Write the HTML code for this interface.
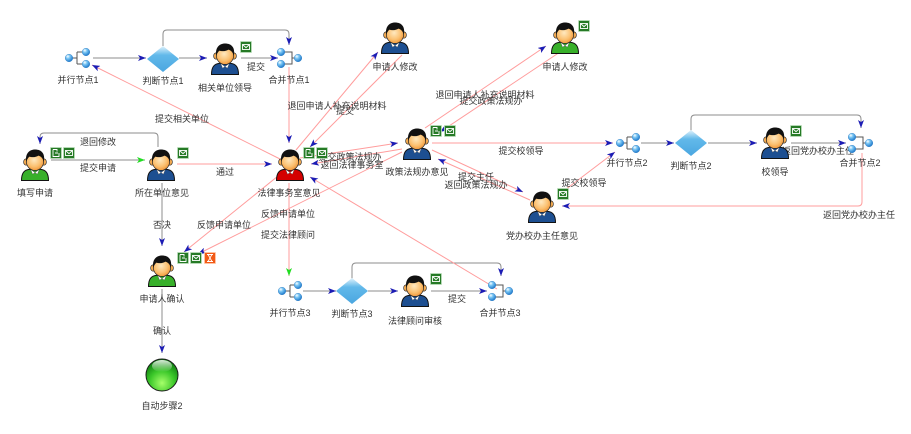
<!DOCTYPE html>
<html><head><meta charset="utf-8">
<style>
html,body{margin:0;padding:0;background:#fff;}
svg{display:block;}
.t{font-family:"Liberation Sans","Noto Sans CJK SC",sans-serif;font-size:9px;fill:#333;text-anchor:middle;}
.g{fill:none;stroke:#8c8c8c;stroke-width:1;}
.p{fill:none;stroke:#ff9c9c;stroke-width:1;}
</style></head>
<body>
<svg width="911" height="434" viewBox="0 0 911 434" xmlns="http://www.w3.org/2000/svg">
<defs>
<marker id="ab" viewBox="0 0 8 6" refX="8" refY="3" markerWidth="8" markerHeight="6" orient="auto" markerUnits="userSpaceOnUse"><path d="M0,0 L8,3 L0,6 L2,3 Z" fill="#1c1cb4"/></marker>
<marker id="ag" viewBox="0 0 8 6" refX="8" refY="3" markerWidth="8" markerHeight="6" orient="auto" markerUnits="userSpaceOnUse"><path d="M0,0 L8,3 L0,6 L2,3 Z" fill="#22dd22"/></marker>
<radialGradient id="face" cx="0.45" cy="0.4" r="0.65"><stop offset="0" stop-color="#ffe9c0"/><stop offset="0.6" stop-color="#fbc070"/><stop offset="1" stop-color="#ef9030"/></radialGradient>
<radialGradient id="ball" cx="0.35" cy="0.3" r="0.75"><stop offset="0" stop-color="#ffffff"/><stop offset="0.35" stop-color="#7cc8f5"/><stop offset="1" stop-color="#1672c8"/></radialGradient>
<linearGradient id="dia" x1="0" y1="0" x2="0" y2="1"><stop offset="0" stop-color="#e2f3fc"/><stop offset="0.35" stop-color="#62b9ea"/><stop offset="1" stop-color="#4aa6e0"/></linearGradient>
<radialGradient id="gc" cx="0.5" cy="0.75" r="0.7"><stop offset="0" stop-color="#a6ff6a"/><stop offset="0.55" stop-color="#3cc82a"/><stop offset="1" stop-color="#0e7e10"/></radialGradient>
<linearGradient id="gh" x1="0" y1="0" x2="0" y2="1"><stop offset="0" stop-color="#fff" stop-opacity="0.85"/><stop offset="1" stop-color="#fff" stop-opacity="0"/></linearGradient>
<symbol id="pp" viewBox="0 0 30 32">
<path d="M1.5,31.5 C1.5,24 4,20.8 10,20.2 L20,20.2 C26,20.8 28.5,24 28.5,31.5 Z" fill="currentColor" stroke="#111" stroke-width="1"/>
<path d="M10.5,20.2 L15,23.6 L12.6,25.2 Z M19.5,20.2 L15,23.6 L17.4,25.2 Z" fill="#fff" stroke="#444" stroke-width="0.4"/>
<ellipse cx="6.2" cy="13" rx="2.6" ry="3.2" fill="#f0a850" stroke="#222" stroke-width="0.6"/>
<ellipse cx="23.8" cy="13" rx="2.6" ry="3.2" fill="#f0a850" stroke="#222" stroke-width="0.6"/>
<ellipse cx="15" cy="12.6" rx="8.6" ry="8.8" fill="url(#face)" stroke="#222" stroke-width="0.7"/>
<path d="M6.2,13 C5,5 9,0.5 15,0.5 C21.5,0.5 25.5,4.5 23.8,13 C23,9.5 21.2,7.4 18.5,6.6 C16.2,8.2 12,8.6 9.4,7.6 C7.8,9 6.8,11 6.2,13 Z" fill="#111"/>
</symbol>
<symbol id="mail" viewBox="0 0 12 12"><rect x="0.5" y="0.5" width="11" height="11" fill="#267a26" stroke="#bfe0bf" stroke-width="0.8"/><rect x="2.5" y="3.5" width="7" height="5" fill="none" stroke="#fff" stroke-width="0.9"/><path d="M2.5,3.5 L6,6.6 L9.5,3.5" fill="none" stroke="#fff" stroke-width="0.9"/></symbol>
<symbol id="fold" viewBox="0 0 12 12"><rect x="0.5" y="0.5" width="11" height="11" fill="#267a26" stroke="#bfe0bf" stroke-width="0.8"/><path d="M3,2.5 H7 V4.5 M3,2.5 V9.5 H9 V6 M5,6 H8" fill="none" stroke="#fff" stroke-width="0.9"/></symbol>
<symbol id="hour" viewBox="0 0 12 12"><rect x="0.5" y="0.5" width="11" height="11" fill="#f25a16" stroke="#ffc8a8" stroke-width="0.8"/><path d="M3,2.5 H9 M3,9.5 H9 M4,2.5 L8,2.5 L6,6 Z M6,6 L8,9.5 L4,9.5 Z" fill="none" stroke="#fff" stroke-width="0.9"/></symbol>
</defs>

<!-- gray connectors -->
<path class="g" d="M93,58 L146,58" marker-end="url(#ab)"/>
<path class="g" d="M179,58 L207,58" marker-end="url(#ab)"/>
<path class="g" d="M241,58 L278,58" marker-end="url(#ab)"/>
<path class="g" d="M163,46 L163,34 Q163,30 167,30 L285,30 Q289,30 289,34 L289,45" marker-end="url(#ab)"/>
<path class="g" d="M51,160 L145,160" marker-end="url(#ag)"/>
<path class="g" d="M158,147 L158,137 Q158,133 154,133 L44,133 Q40,133 40,137 L40,144" marker-end="url(#ab)"/>
<path class="g" d="M162,183 L162,246" marker-end="url(#ab)"/>
<path class="g" d="M162,289 L162,353" marker-end="url(#ab)"/>
<path class="g" d="M303,291 L336,291" marker-end="url(#ab)"/>
<path class="g" d="M368,291 L398,291" marker-end="url(#ab)"/>
<path class="g" d="M431,291 L487,291" marker-end="url(#ab)"/>
<path class="g" d="M352,280 L352,267 Q352,263 356,263 L497,263 Q501,263 501,267 L501,276" marker-end="url(#ab)"/>
<path class="g" d="M641,143 L674,143" marker-end="url(#ab)"/>
<path class="g" d="M708,143 L757,143" marker-end="url(#ab)"/>
<path class="g" d="M791,143 L846,143" marker-end="url(#ab)"/>
<path class="g" d="M691,132 L691,119 Q691,115 695,115 L857,115 Q861,115 861,119 L861,128" marker-end="url(#ab)"/>

<!-- pink connectors -->
<path class="p" d="M177,164 L272,164" marker-end="url(#ab)"/>
<path class="p" d="M289,67 L289,143" marker-end="url(#ab)"/>
<path class="p" d="M282,160 L92,65" marker-end="url(#ab)"/>
<path class="p" d="M296,150 L378,52" marker-end="url(#ab)"/>
<path class="p" d="M402,55 L310,147" marker-end="url(#ab)"/>
<path class="p" d="M300,158 L398,143" marker-end="url(#ab)"/>
<path class="p" d="M402,149 L311,164" marker-end="url(#ab)"/>
<path class="p" d="M425,128 L546,46" marker-end="url(#ab)"/>
<path class="p" d="M560,52 L440,132" marker-end="url(#ab)"/>
<path class="p" d="M432,150 L523,192" marker-end="url(#ab)"/>
<path class="p" d="M530,200 L438,159" marker-end="url(#ab)"/>
<path class="p" d="M432,143 L613,143" marker-end="url(#ab)"/>
<path class="p" d="M557,196 L615,152" marker-end="url(#ab)"/>
<path class="p" d="M862,153 L862,202 Q862,206 858,206 L562,206" marker-end="url(#ab)"/>
<path class="p" d="M283,172 L184,252" marker-end="url(#ab)"/>
<path class="p" d="M402,152 L198,254" marker-end="url(#ab)"/>
<path class="p" d="M289,183 L289,276" marker-end="url(#ag)"/>
<path class="p" d="M497,289 L310,177" marker-end="url(#ab)"/>

<!-- connector labels -->
<text class="t" x="256" y="70">提交</text>
<text class="t" x="98" y="145">退回修改</text>
<text class="t" x="98" y="171">提交申请</text>
<text class="t" x="225" y="175">通过</text>
<text class="t" x="182" y="122">提交相关单位</text>
<text class="t" x="337" y="109">退回申请人补充说明材料</text>
<text class="t" x="345" y="114">提交</text>
<text class="t" x="485" y="98">退回申请人补充说明材料</text>
<text class="t" x="491" y="104">提交政策法规办</text>
<text class="t" x="350" y="160">提交政策法规办</text>
<text class="t" x="352" y="168">返回法律事务室</text>
<text class="t" x="521" y="154">提交校领导</text>
<text class="t" x="476" y="180">提交主任</text>
<text class="t" x="476" y="188">返回政策法规办</text>
<text class="t" x="584" y="186">提交校领导</text>
<text class="t" x="818" y="154">返回党办校办主任</text>
<text class="t" x="859" y="218">返回党办校办主任</text>
<text class="t" x="162" y="228">否决</text>
<text class="t" x="162" y="334">确认</text>
<text class="t" x="224" y="228">反馈申请单位</text>
<text class="t" x="288" y="217">反馈申请单位</text>
<text class="t" x="288" y="238">提交法律顾问</text>
<text class="t" x="457" y="302">提交</text>

<!-- parallel / merge nodes -->
<g stroke="#555" stroke-width="1" fill="none">
<path d="M72,58 H77 M77,52 V64 M77,52 H82 M77,64 H82"/>
<path d="M284,52 H292 V64 H284 M292,58 H295"/>
<path d="M623,143 H627 M627,137 V149 M627,137 H632 M627,149 H632"/>
<path d="M855,137 H863 V149 H855 M863,143 H866"/>
<path d="M285,291 H290 M290,285 V297 M290,285 H294 M290,297 H294"/>
<path d="M495,285 H503 V297 H495 M503,291 H506"/>
</g>
<g fill="url(#ball)" stroke="#2a78c0" stroke-width="0.4">
<circle cx="69" cy="58" r="3.8"/><circle cx="86" cy="52" r="3.8"/><circle cx="86" cy="64" r="3.8"/>
<circle cx="281" cy="52" r="3.8"/><circle cx="281" cy="64" r="3.8"/><circle cx="298" cy="58" r="3.8"/>
<circle cx="620" cy="143" r="3.8"/><circle cx="636" cy="137" r="3.8"/><circle cx="636" cy="149" r="3.8"/>
<circle cx="852" cy="137" r="3.8"/><circle cx="852" cy="149" r="3.8"/><circle cx="869" cy="143" r="3.8"/>
<circle cx="282" cy="291" r="3.8"/><circle cx="298" cy="285" r="3.8"/><circle cx="298" cy="297" r="3.8"/>
<circle cx="492" cy="285" r="3.8"/><circle cx="492" cy="297" r="3.8"/><circle cx="509" cy="291" r="3.8"/>
</g>

<!-- diamonds -->
<polygon points="147,59 163,46 179,59 163,72" fill="url(#dia)"/>
<polygon points="675,143 691,130 707,143 691,156" fill="url(#dia)"/>
<polygon points="336,291 352,278 368,291 352,304" fill="url(#dia)"/>

<!-- persons -->
<use href="#pp" x="210" y="43" width="30" height="32" style="color:#1d4f91"/>
<use href="#pp" x="20" y="149" width="30" height="32" style="color:#38b02a"/>
<use href="#pp" x="146" y="149" width="30" height="32" style="color:#1d4f91"/>
<use href="#pp" x="275" y="149" width="30" height="32" style="color:#d40000"/>
<use href="#pp" x="380" y="22" width="30" height="32" style="color:#1d4f91"/>
<use href="#pp" x="550" y="22" width="30" height="32" style="color:#38b02a"/>
<use href="#pp" x="402" y="128" width="30" height="32" style="color:#1d4f91"/>
<use href="#pp" x="527" y="191" width="30" height="32" style="color:#1d4f91"/>
<use href="#pp" x="760" y="127" width="30" height="32" style="color:#1d4f91"/>
<use href="#pp" x="147" y="255" width="30" height="32" style="color:#38b02a"/>
<use href="#pp" x="400" y="275" width="30" height="32" style="color:#1d4f91"/>

<!-- auto step circle -->
<circle cx="162" cy="375" r="16" fill="url(#gc)" stroke="#1a1a1a" stroke-width="1"/>
<ellipse cx="162" cy="366" rx="10" ry="6" fill="url(#gh)"/>

<!-- small status icons -->
<use href="#mail" x="240" y="41" width="12" height="12"/>
<use href="#fold" x="50" y="147" width="12" height="12"/>
<use href="#mail" x="63" y="147" width="12" height="12"/>
<use href="#mail" x="177" y="147" width="12" height="12"/>
<use href="#fold" x="303" y="147" width="12" height="12"/>
<use href="#mail" x="316" y="147" width="12" height="12"/>
<use href="#mail" x="578" y="20" width="12" height="12"/>
<use href="#fold" x="430" y="125" width="12" height="12"/>
<use href="#mail" x="444" y="125" width="12" height="12"/>
<use href="#mail" x="557" y="188" width="12" height="12"/>
<use href="#mail" x="790" y="125" width="12" height="12"/>
<use href="#fold" x="177" y="252" width="12" height="12"/>
<use href="#mail" x="190" y="252" width="12" height="12"/>
<use href="#hour" x="204" y="252" width="12" height="12"/>
<use href="#mail" x="430" y="273" width="12" height="12"/>

<!-- node labels -->
<text class="t" x="78" y="83">并行节点1</text>
<text class="t" x="163" y="84">判断节点1</text>
<text class="t" x="225" y="91">相关单位领导</text>
<text class="t" x="289" y="83">合并节点1</text>
<text class="t" x="35" y="196">填写申请</text>
<text class="t" x="162" y="196">所在单位意见</text>
<text class="t" x="289" y="196">法律事务室意见</text>
<text class="t" x="395" y="70">申请人修改</text>
<text class="t" x="565" y="70">申请人修改</text>
<text class="t" x="417" y="175">政策法规办意见</text>
<text class="t" x="542" y="239">党办校办主任意见</text>
<text class="t" x="627" y="166">并行节点2</text>
<text class="t" x="691" y="169">判断节点2</text>
<text class="t" x="775" y="175">校领导</text>
<text class="t" x="860" y="166">合并节点2</text>
<text class="t" x="162" y="302">申请人确认</text>
<text class="t" x="162" y="409">自动步骤2</text>
<text class="t" x="290" y="316">并行节点3</text>
<text class="t" x="352" y="317">判断节点3</text>
<text class="t" x="415" y="324">法律顾问审核</text>
<text class="t" x="500" y="316">合并节点3</text>
</svg>
</body></html>
